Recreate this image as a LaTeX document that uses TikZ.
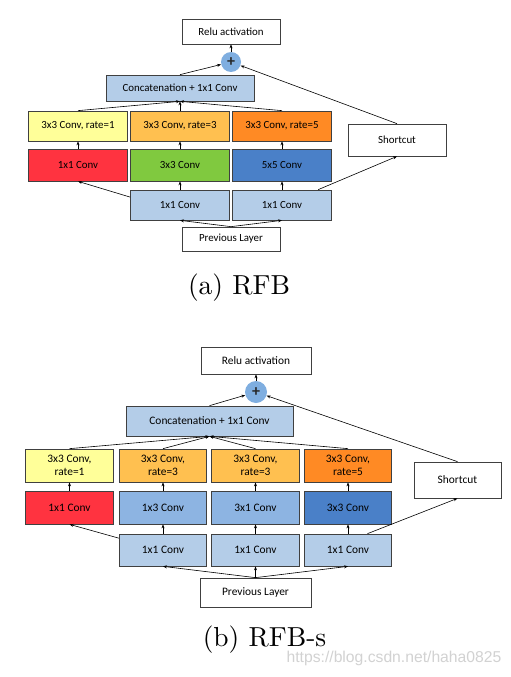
\documentclass[tikz,border=0pt]{standalone}
\usepackage{fontspec}
\newfontfamily\boxfont{Carlito}
\newfontfamily\wmfont{Liberation Sans}
\newfontfamily\capfont{lmroman10-regular.otf}
\usetikzlibrary{arrows.meta}
\definecolor{lblue}{HTML}{B4CDE8}
\definecolor{mblue}{HTML}{8DB4E2}
\definecolor{dblue}{HTML}{4A80C8}
\definecolor{cblue}{HTML}{7FAEE0}
\definecolor{cred}{HTML}{FF3340}
\definecolor{cgreen}{HTML}{80C93F}
\definecolor{cyellow}{HTML}{FFFF99}
\definecolor{lorange}{HTML}{FFC050}
\definecolor{corange}{HTML}{FF8A24}
\definecolor{wmgray}{HTML}{D2D2D2}
\begin{document}
\begin{tikzpicture}[x=1pt,y=-1pt,
  bx/.style={draw=black!75, line width=0.7pt, inner sep=0pt, align=center},
  fa/.style={font=\boxfont\fontsize{10.9}{12}\selectfont},
  fb/.style={font=\boxfont\fontsize{11.4}{13.6}\selectfont},
  ar/.style={-{Stealth[length=4pt,width=3pt]}, line width=0.6pt, black},
  captxt/.style={font=\capfont\fontsize{27.5}{30}\selectfont},
  pl/.style={circle, fill=cblue, inner sep=0pt, text=black!85, font=\boxfont\bfseries\fontsize{16}{16}\selectfont}]
\useasboundingbox[fill=white] (0,0) rectangle (511,677);
% ---------- (a) RFB ----------
\node[bx,fa,minimum width=98pt,minimum height=25pt] (relu1) at (231,31.5) {Relu activation};
\node[pl,minimum size=20pt] (plus1) at (231,62) {+};
\node[bx,fa,fill=lblue,minimum width=148pt,minimum height=26pt] (cat1) at (180,88) {Concatenation + 1x1 Conv};
\node[bx,fa,fill=cyellow,minimum width=99pt,minimum height=30pt] (ra1) at (78,126) {3x3 Conv, rate=1};
\node[bx,fa,fill=lorange,minimum width=99pt,minimum height=30pt] (ra3) at (180,126) {3x3 Conv, rate=3};
\node[bx,fa,fill=corange,minimum width=99pt,minimum height=30pt] (ra5) at (282,126) {3x3 Conv, rate=5};
\node[bx,fa,fill=cred,minimum width=99pt,minimum height=32pt] (ca1) at (78,165) {1x1 Conv};
\node[bx,fa,fill=cgreen,minimum width=99pt,minimum height=32pt] (ca3) at (180,165) {3x3 Conv};
\node[bx,fa,fill=dblue,minimum width=99pt,minimum height=32pt] (ca5) at (282,165) {5x5 Conv};
\node[bx,fa,fill=lblue,minimum width=99pt,minimum height=30pt] (pa1) at (180,205) {1x1 Conv};
\node[bx,fa,fill=lblue,minimum width=99pt,minimum height=30pt] (pa2) at (282,205) {1x1 Conv};
\node[bx,fa,minimum width=98pt,minimum height=24pt] (prev1) at (231,239) {Previous Layer};
\node[bx,fa,minimum width=98pt,minimum height=32pt] (sc1) at (397,140) {Shortcut};
\draw[ar] (prev1.north) -- (pa1.south);
\draw[ar] (prev1.north) -- (pa2.south);
\draw[ar] (pa1.171) -- (ca1.south);
\draw[ar] (pa1.north) -- (ca3.south);
\draw[ar] (pa2.north) -- (ca5.south);
\draw[ar] (pa2.23) -- (sc1.south);
\draw[ar] (ca1.north) -- (ra1.south);
\draw[ar] (ca3.north) -- (ra3.south);
\draw[ar] (ca5.north) -- (ra5.south);
\draw[ar] (ra1.north) -- (cat1.south);
\draw[ar] (ra3.north) -- (cat1.south);
\draw[ar] (ra5.north) -- (cat1.south);
\draw[ar] (cat1.north) -- (plus1);
\draw[ar] (sc1.north) -- (plus1);
\draw[ar] (plus1) -- (relu1.south);
\node[captxt] (capa) at (239,288) {(a) RFB};
% ---------- (b) RFB-s ----------
\node[bx,fb,minimum width=110pt,minimum height=27pt] (relu2) at (256,360.5) {Relu activation};
\node[pl,minimum size=22pt] (plus2) at (256,392) {+};
\node[bx,fb,fill=lblue,minimum width=167pt,minimum height=30pt] (cat2) at (209.5,421) {Concatenation + 1x1 Conv};
\node[bx,fb,fill=cyellow,minimum width=87.5pt,minimum height=33pt] (rb1) at (69.5,465.5) {3x3 Conv,\\rate=1};
\node[bx,fb,fill=lorange,minimum width=87.5pt,minimum height=33pt] (rb2) at (163,465.5) {3x3 Conv,\\rate=3};
\node[bx,fb,fill=lorange,minimum width=87.5pt,minimum height=33pt] (rb3) at (255.5,465.5) {3x3 Conv,\\rate=3};
\node[bx,fb,fill=corange,minimum width=87.5pt,minimum height=33pt] (rb4) at (348,465.5) {3x3 Conv,\\rate=5};
\node[bx,fb,fill=cred,minimum width=87.5pt,minimum height=33pt] (cb1) at (69.5,507.5) {1x1 Conv};
\node[bx,fb,fill=mblue,minimum width=87.5pt,minimum height=33pt] (cb2) at (163,507.5) {1x3 Conv};
\node[bx,fb,fill=mblue,minimum width=87.5pt,minimum height=33pt] (cb3) at (255.5,507.5) {3x1 Conv};
\node[bx,fb,fill=dblue,minimum width=87.5pt,minimum height=33pt] (cb4) at (348,507.5) {3x3 Conv};
\node[bx,fb,fill=lblue,minimum width=87.5pt,minimum height=32pt] (pb1) at (163,550) {1x1 Conv};
\node[bx,fb,fill=lblue,minimum width=87.5pt,minimum height=32pt] (pb2) at (255.5,550) {1x1 Conv};
\node[bx,fb,fill=lblue,minimum width=87.5pt,minimum height=32pt] (pb3) at (348,550) {1x1 Conv};
\node[bx,fb,minimum width=111pt,minimum height=29pt] (prev2) at (255.5,592.5) {Previous Layer};
\node[bx,fb,minimum width=87pt,minimum height=36pt] (sc2) at (457.5,480) {Shortcut};
\draw[ar] (prev2.north) -- (pb1.south);
\draw[ar] (prev2.north) -- (pb2.south);
\draw[ar] (prev2.north) -- (pb3.south);
\draw[ar] (pb1.165) -- (cb1.south);
\draw[ar] (pb1.north) -- (cb2.south);
\draw[ar] (pb2.north) -- (cb3.south);
\draw[ar] (pb3.north) -- (cb4.south);
\draw[ar] (pb3.40) -- (sc2.south);
\draw[ar] (cb1.north) -- (rb1.south);
\draw[ar] (cb2.north) -- (rb2.south);
\draw[ar] (cb3.north) -- (rb3.south);
\draw[ar] (cb4.north) -- (rb4.south);
\draw[ar] (rb1.north) -- (cat2.south);
\draw[ar] (rb2.north) -- (cat2.south);
\draw[ar] (rb3.north) -- (cat2.south);
\draw[ar] (rb4.north) -- (cat2.south);
\draw[ar] (cat2.north) -- (plus2);
\draw[ar] (sc2.north) -- (plus2);
\draw[ar] (plus2) -- (relu2.south);
\node[captxt] (capb) at (264.5,639.5) {(b) RFB-s};
\node[font=\wmfont\fontsize{15.7}{18}\selectfont, text=wmgray] (wm) at (394,658) {https://blog.csdn.net/haha0825};
\end{tikzpicture}
\end{document}
